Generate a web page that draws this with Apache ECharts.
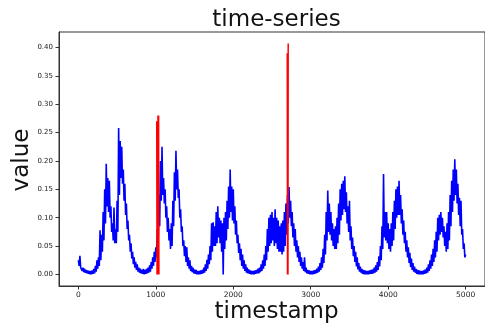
<!DOCTYPE html>
<html>
<head>
<meta charset="utf-8">
<script src="https://cdn.jsdelivr.net/npm/echarts@6/dist/echarts.min.js"></script>
<style>html,body{margin:0;padding:0;background:#fff;}#c{width:485px;height:325px;}</style>
</head>
<body>
<div id="c"></div>
<script>
// Blue series read from the picture as a noisy band: for each 20-step window,
// the top of the band (at t) and the bottom of the band (at t + 10).
const blueStart = 0;
const blueStep = 20;
const blueHigh = [
  0.025, 0.033, 0.015, 0.012, 0.010, 0.008, 0.007, 0.006, 0.006, 0.007,
  0.010, 0.015, 0.025, 0.030, 0.078, 0.070, 0.110, 0.150, 0.195, 0.170,
  0.165, 0.120, 0.090, 0.118, 0.080, 0.130, 0.258, 0.235, 0.225, 0.185,
  0.160, 0.125, 0.095, 0.070, 0.055, 0.040, 0.030, 0.022, 0.018, 0.012,
  0.010, 0.008, 0.010, 0.008, 0.010, 0.012, 0.016, 0.022, 0.030, 0.040,
  0.048, 0.080, 0.140, 0.200, 0.225, 0.170, 0.150, 0.120, 0.100, 0.080,
  0.090, 0.130, 0.180, 0.218, 0.185, 0.150, 0.115, 0.085, 0.060, 0.050,
  0.048, 0.030, 0.025, 0.015, 0.012, 0.009, 0.008, 0.006, 0.006, 0.007,
  0.008, 0.012, 0.018, 0.026, 0.035, 0.050, 0.090, 0.092, 0.085, 0.110,
  0.120, 0.100, 0.095, 0.090, 0.100, 0.110, 0.130, 0.155, 0.185, 0.155,
  0.150, 0.120, 0.095, 0.070, 0.055, 0.045, 0.035, 0.025, 0.018, 0.012,
  0.009, 0.007, 0.006, 0.006, 0.007, 0.008, 0.010, 0.012, 0.018, 0.025,
  0.035, 0.050, 0.080, 0.100, 0.105, 0.110, 0.100, 0.115, 0.100, 0.095,
  0.085, 0.090, 0.095, 0.110, 0.125, 0.140, 0.154, 0.130, 0.110, 0.090,
  0.080, 0.060, 0.050, 0.040, 0.030, 0.022, 0.030, 0.012, 0.008, 0.007,
  0.006, 0.006, 0.007, 0.008, 0.010, 0.014, 0.020, 0.030, 0.045, 0.070,
  0.110, 0.148, 0.125, 0.110, 0.090, 0.080, 0.085, 0.100, 0.125, 0.150,
  0.160, 0.165, 0.173, 0.145, 0.120, 0.130, 0.085, 0.065, 0.050, 0.040,
  0.030, 0.020, 0.014, 0.010, 0.008, 0.007, 0.006, 0.006, 0.007, 0.008,
  0.009, 0.012, 0.016, 0.022, 0.032, 0.050, 0.085, 0.177, 0.110, 0.110,
  0.090, 0.080, 0.090, 0.110, 0.130, 0.150, 0.155, 0.165, 0.140, 0.115,
  0.095, 0.075, 0.060, 0.048, 0.038, 0.028, 0.020, 0.014, 0.010, 0.008,
  0.007, 0.006, 0.006, 0.007, 0.009, 0.012, 0.018, 0.025, 0.035, 0.045,
  0.060, 0.075, 0.100, 0.105, 0.110, 0.100, 0.085, 0.075, 0.090, 0.110,
  0.140, 0.165, 0.185, 0.203, 0.185, 0.160, 0.135, 0.130, 0.080, 0.055,
  0.035
];
const blueLow = [
  0.015, 0.012, 0.006, 0.004, 0.003, 0.002, 0.001, 0.000, 0.000, 0.001,
  0.002, 0.005, 0.010, 0.015, 0.025, 0.040, 0.060, 0.090, 0.120, 0.110,
  0.100, 0.075, 0.060, 0.055, 0.055, 0.075, 0.140, 0.170, 0.160, 0.130,
  0.105, 0.080, 0.060, 0.040, 0.028, 0.018, 0.012, 0.008, 0.005, 0.003,
  0.002, 0.001, 0.000, 0.001, 0.002, 0.003, 0.005, 0.010, 0.015, 0.022,
  0.030, 0.050, 0.085, 0.130, 0.140, 0.125, 0.100, 0.075, 0.060, 0.045,
  0.050, 0.085, 0.130, 0.150, 0.135, 0.100, 0.075, 0.050, 0.032, 0.022,
  0.015, 0.010, 0.006, 0.004, 0.002, 0.001, 0.000, 0.000, 0.000, 0.001,
  0.002, 0.003, 0.006, 0.010, 0.018, 0.025, 0.040, 0.050, 0.050, 0.055,
  0.065, 0.055, 0.040, 0.000, 0.045, 0.060, 0.080, 0.100, 0.110, 0.095,
  0.090, 0.070, 0.055, 0.038, 0.025, 0.015, 0.010, 0.006, 0.003, 0.002,
  0.001, 0.000, 0.000, 0.000, 0.001, 0.002, 0.002, 0.004, 0.006, 0.010,
  0.015, 0.025, 0.040, 0.050, 0.055, 0.060, 0.050, 0.055, 0.045, 0.040,
  0.040, 0.035, 0.040, 0.050, 0.070, 0.090, 0.100, 0.085, 0.065, 0.050,
  0.040, 0.030, 0.022, 0.015, 0.010, 0.006, 0.004, 0.002, 0.001, 0.000,
  0.000, 0.000, 0.001, 0.002, 0.003, 0.005, 0.008, 0.012, 0.020, 0.035,
  0.060, 0.075, 0.070, 0.060, 0.050, 0.045, 0.045, 0.055, 0.070, 0.095,
  0.105, 0.115, 0.110, 0.090, 0.075, 0.060, 0.045, 0.032, 0.022, 0.014,
  0.009, 0.005, 0.003, 0.001, 0.000, 0.000, 0.000, 0.000, 0.001, 0.001,
  0.002, 0.003, 0.005, 0.008, 0.014, 0.025, 0.045, 0.065, 0.060, 0.055,
  0.045, 0.040, 0.050, 0.060, 0.080, 0.100, 0.105, 0.105, 0.090, 0.070,
  0.055, 0.040, 0.030, 0.020, 0.013, 0.008, 0.005, 0.003, 0.001, 0.000,
  0.000, 0.000, 0.000, 0.001, 0.002, 0.003, 0.006, 0.010, 0.015, 0.022,
  0.030, 0.040, 0.060, 0.070, 0.075, 0.065, 0.050, 0.040, 0.045, 0.060,
  0.085, 0.110, 0.130, 0.140, 0.125, 0.105, 0.085, 0.070, 0.045, 0.030,
  0.020
];
// Red (anomaly) segments
const redTimes1 = [1012, 1016, 1020, 1024, 1028, 1032, 1036, 1040];
const redValues1 = [0.270, 0.000, 0.270, 0.000, 0.280, 0.000, 0.280, 0.000];
const redTimes2 = [2697, 2700, 2703, 2706, 2709];
const redValues2 = [0.390, 0.000, 0.390, 0.000, 0.407];
// Axis ticks
const xTicks = [0, 1000, 2000, 3000, 4000, 5000];
const yTicks = [0.00, 0.05, 0.10, 0.15, 0.20, 0.25, 0.30, 0.35, 0.40];

const blueData = [];
blueHigh.forEach((v, i) => {
  const t = blueStart + i * blueStep;
  blueData.push([t, v]);
  if (i < blueLow.length && i < blueHigh.length - 1) blueData.push([t + blueStep / 2, blueLow[i]]);
});
const redData1 = redTimes1.map((t, i) => [t, redValues1[i]]);
const redData2 = redTimes2.map((t, i) => [t, redValues2[i]]);

const FONT = 'DejaVu Sans';
const AX = '#333';
const chart = echarts.init(document.getElementById('c'), null, {renderer: 'canvas'});
chart.setOption({
  animation: false,
  backgroundColor: '#fff',
  grid: {left: 59, top: 32, width: 435, height: 254, show: true, borderColor: AX, borderWidth: 1, containLabel: false},
  xAxis: {
    type: 'value', min: -250, max: 5250,
    axisLine: {show: true, onZero: false, lineStyle: {color: AX, width: 1}},
    axisTick: {show: true, length: 3.5, lineStyle: {color: AX}, customValues: xTicks},
    axisLabel: {show: true, fontSize: 7.5, color: '#222', fontFamily: FONT, margin: 5, customValues: xTicks,
      formatter: v => String(v)},
    splitLine: {show: false}
  },
  yAxis: {
    type: 'value', min: -0.0204, max: 0.4274,
    axisLine: {show: true, onZero: false, lineStyle: {color: AX, width: 1}},
    axisTick: {show: true, length: 3.5, lineStyle: {color: AX}, customValues: yTicks},
    axisLabel: {show: true, fontSize: 7, color: '#222', fontFamily: FONT, margin: 6, customValues: yTicks,
      formatter: v => v.toFixed(2)},
    splitLine: {show: false}
  },
  series: [
    {type: 'line', data: blueData, showSymbol: false, symbol: 'none', sampling: null,
      lineStyle: {color: '#0000ff', width: 1.6}, z: 2},
    {type: 'line', data: redData1, showSymbol: false, symbol: 'none',
      lineStyle: {color: '#ff0000', width: 1.5}, z: 3},
    {type: 'line', data: redData2, showSymbol: false, symbol: 'none',
      lineStyle: {color: '#ff0000', width: 1.5}, z: 3}
  ],
  graphic: [
    {type: 'text', x: 276.5, y: 20, style: {text: 'time-series', font: '23px "DejaVu Sans"', fill: '#111', align: 'center', verticalAlign: 'middle'}},
    {type: 'text', x: 276.5, y: 312, style: {text: 'timestamp', font: '23px "DejaVu Sans"', fill: '#111', align: 'center', verticalAlign: 'middle'}},
    {type: 'text', x: 22, y: 160, rotation: Math.PI / 2, style: {text: 'value', font: '23px "DejaVu Sans"', fill: '#111', align: 'center', verticalAlign: 'middle'}}
  ]
});
</script>
</body>
</html>
